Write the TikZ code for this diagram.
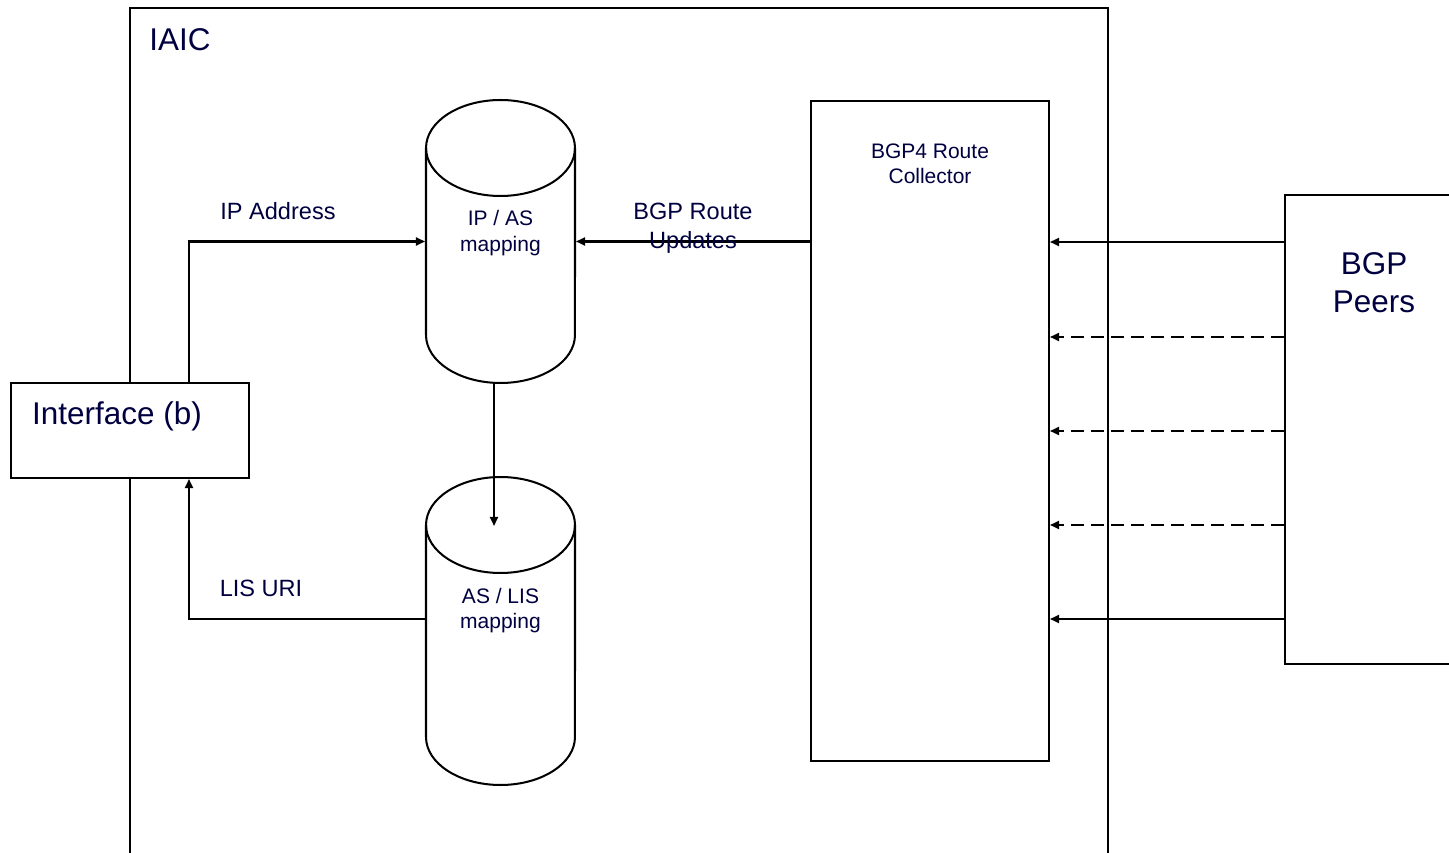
\documentclass[tikz,border=0pt]{standalone}
\usepackage{fontspec}
\setmainfont{Liberation Sans}
\usepackage{xcolor}
\usetikzlibrary{arrows.meta}

\definecolor{labelnavy}{HTML}{000040}

% database drum: x centre, y of top ellipse, y of bottom ellipse
\newcommand{\dbcylinder}[3]{%
  \draw (#1-74.5,#2) -- (#1-74.5,#3)
        arc[start angle=180, end angle=360, x radius=1.49cm, y radius=0.96cm]
        -- (#1+74.5,#2);
  \draw (#1,#2) ellipse [x radius=1.49cm, y radius=0.96cm];
}

\begin{document}
\begin{tikzpicture}[x=0.02cm, y=0.02cm, line width=1.15pt,
  box/.style={draw, fill=white, inner sep=0pt},
  cylbody/.style={inner sep=0pt, minimum width=2.98cm},
  arr/.style={-{Triangle[length=5.2pt, width=4.6pt]}},
  dasharr/.style={arr, dash pattern=on 7.4pt off 4pt},
  smalltxt/.style={text=labelnavy, align=center, font=\fontsize{11.95}{14.6}\selectfont},
  midtxt/.style={text=labelnavy, align=center, font=\fontsize{13.4}{16.5}\selectfont},
  bigtxt/.style={text=labelnavy, align=center, font=\fontsize{17.9}{21.6}\selectfont}]

  \useasboundingbox (0,0) rectangle (1449,852);
  \clip (0,0) rectangle (1449,852);
  \fill[white] (0,0) rectangle (1449,852);

  % -- IAIC frame, open at the bottom -------------------------------------
  \draw (130,-20) rectangle (1108,844);
  \node[bigtxt] (iaictxt) at (180,812) {IAIC};

  % -- interface (b), sits across the frame -------------------------------
  \node[box, minimum width=4.76cm, minimum height=1.9cm] (iface) at (130,421.5) {};
  \node[bigtxt] (ifacetxt) at (117,436) {Interface (b)};

  % -- the two mapping tables ----------------------------------------------
  \dbcylinder{500.5}{704}{517}
  \node[cylbody, minimum height=5.66cm] (ipas) at (500.5,610.5) {};
  \node[smalltxt] (ipastxt) at (500.5,619) {IP / AS\\mapping};

  \dbcylinder{500.5}{327}{115}
  \node[cylbody, minimum height=6.16cm] (aslis) at (500.5,221) {};
  \node[smalltxt] (aslistxt) at (500.5,241.5) {AS / LIS\\mapping};

  % -- route collector and peers ------------------------------------------
  \node[box, minimum width=4.76cm, minimum height=13.2cm] (collector) at (930,421) {};
  \node[smalltxt, font=\fontsize{11.95}{14.2}\selectfont] (collectortxt) at (930,688.5) {BGP4 Route\\Collector};

  \node[box, minimum width=4.8cm, minimum height=9.38cm] (peers) at (1405,422.5) {};
  \node[bigtxt] (peerstxt) at (1374,569) {BGP\\Peers};

  % -- connectors -----------------------------------------------------------
  \draw[arr] ([xshift=1.18cm]iface.north) |- (ipas.west);
  \node[midtxt] (iplbl) at (278,641) {IP Address};

  \draw[arr] ([xshift=-0.13cm]ipas.south) -- ([xshift=-0.13cm, yshift=-1.0cm]aslis.north);

  \draw[arr] ([yshift=0.24cm]aslis.west) -| ([xshift=1.18cm]iface.south);
  \node[midtxt] (lislbl) at (261,264) {LIS URI};

  \draw[arr] (collector.west |- ipas.east) -- (ipas.east);
  \node[midtxt] (updlbl) at (693,624) {BGP Route\\Updates};

  \draw[arr]     (peers.west |- 0,610) -- (collector.east |- 0,610);
  \draw[dasharr] (peers.west |- 0,515) -- (collector.east |- 0,515);
  \draw[dasharr] (peers.west |- 0,421) -- (collector.east |- 0,421);
  \draw[dasharr] (peers.west |- 0,327) -- (collector.east |- 0,327);
  \draw[arr]     (peers.west |- 0,233) -- (collector.east |- 0,233);

\end{tikzpicture}
\end{document}
